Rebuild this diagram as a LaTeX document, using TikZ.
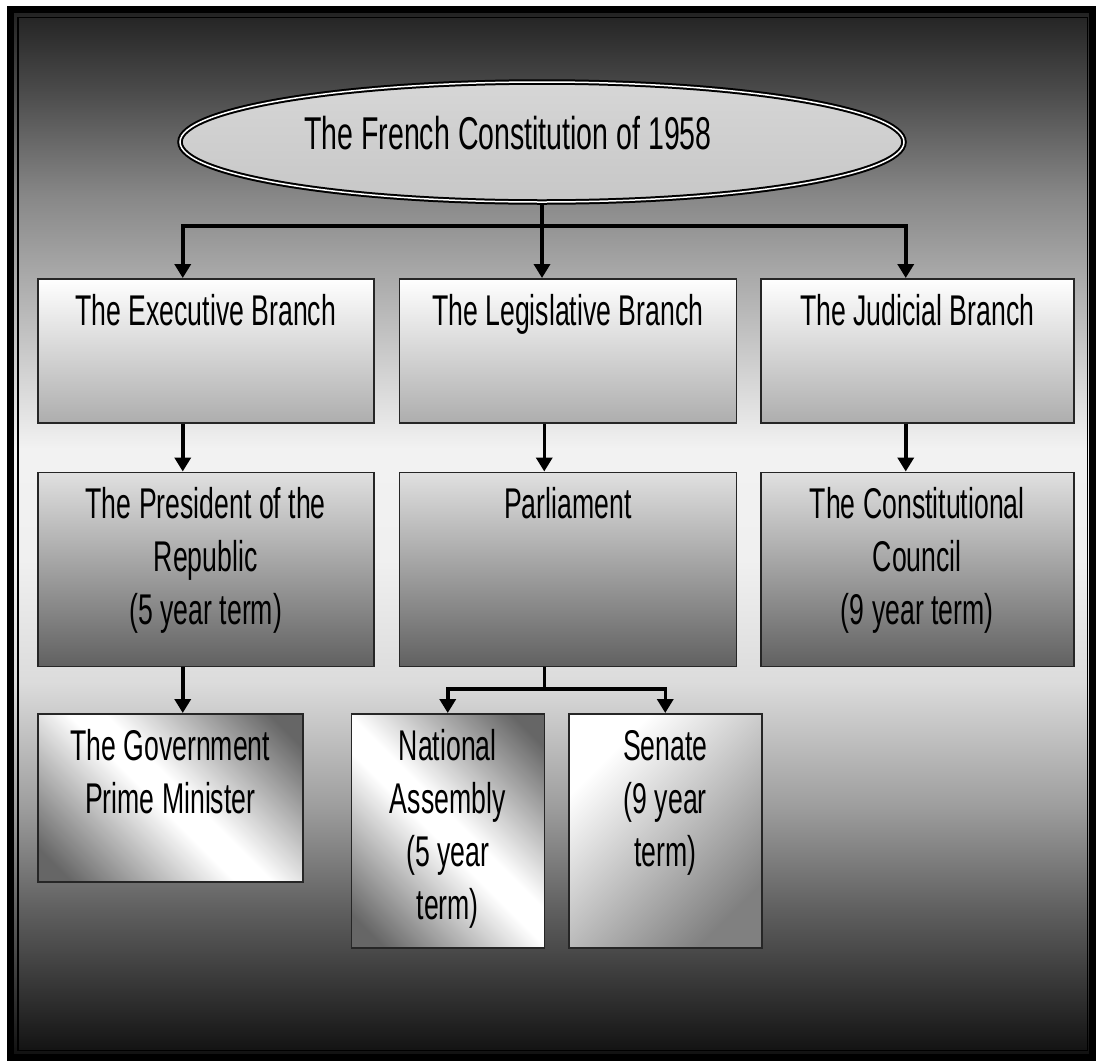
\documentclass[tikz,border=0pt]{standalone}
\usepackage{fontspec}
\setmainfont{Liberation Sans}[FakeStretch=0.62]
\usepackage{tikz}
\usetikzlibrary{shapes,shapes.geometric,arrows.meta,calc,positioning}
\usepackage{xcolor}

\pgfdeclareverticalshading{framefade}{100bp}{color(0bp)=(black!94); color(25bp)=(black!94); color(32.18bp)=(black!62); color(37.03bp)=(black!38); color(42.85bp)=(black!14); color(48.67bp)=(black!6); color(54bp)=(black!5); color(61.28bp)=(black!30); color(66.13bp)=(black!47); color(70.97bp)=(black!70); color(75bp)=(black!87); color(100bp)=(black!87)}
\pgfdeclarehorizontalshading{glare}{100bp}{color(0bp)=(black!60); color(20bp)=(black!60); color(47bp)=(white); color(53bp)=(white); color(80bp)=(black!60); color(100bp)=(black!60)}
\pgfdeclarehorizontalshading{sheen}{100bp}{color(0bp)=(white); color(28bp)=(white); color(75bp)=(black!50); color(100bp)=(black!50)}

\begin{document}
\begin{tikzpicture}[
	  x=1pt,y=-1pt,
	  every node/.style={align=flush center,text=black,font=\fontsize{43pt}{53pt}\selectfont},
	  box/.style={draw=black!85,line width=1.5pt,rectangle,inner xsep=4pt,inner ysep=0pt,text height=46.5pt},
	  branch/.style={box,top color=white,bottom color=black!32,text depth=97.5pt},
	  office/.style={box,top color=black!12,bottom color=black!62,text depth=147.5pt},
	  chamber/.style={box,shade,shading=glare,shading angle=45},
	  senatebox/.style={box,shade,shading=sheen,shading angle=-45},
	  founding/.style={ellipse,draw=black,double=white,double distance=1.5pt,line width=2pt,
	    top color=black!16,middle color=black!6,bottom color=black!22,minimum width=724pt,minimum height=120pt,inner sep=0pt},
	  link/.style={line width=3.5pt,draw=black},
	  to/.style={link,-{Triangle[width=16pt,length=14pt]}}]

	  % frame and background
	  \fill[white] (0,0) rectangle (1096,1060);
	  \shade[shading=framefade] (10.5,9.5) rectangle (1092.5,1057.5);
	  \draw[line width=7pt] (10.5,9.5) rectangle (1092.5,1057.5);
	  \draw[line width=1.5pt] (18,17.5) rectangle (1087.5,1050.5);

	  % Position the nodes
	  \node[founding] (title) at (542,142) {};
	  \node[anchor=base,font=\fontsize{46pt}{53pt}\selectfont] (titletext) at ($(title.center)+(-34,7)$) {The French Constitution of 1958};

	  \node[branch,text width=328pt,anchor=north west] (exec) at (37,278) {The Executive Branch};
	  \node[branch,text width=329pt,right=24pt of exec] (legis) {The Legislative Branch};
	  \node[branch,text width=305pt,right=23pt of legis] (judic) {The Judicial Branch};

	  \node[office,text width=328pt,below=48pt of exec] (pres) {The President of the\\Republic\\(5 year term)};
	  \node[office,text width=329pt,below=48pt of legis] (parl) {Parliament};
	  \node[office,text width=305pt,below=48pt of judic] (council) {The Constitutional\\Council\\(9 year term)};

	  \node[chamber,text width=257pt,text depth=121.5pt,below right=46pt and 0pt of pres.south west] (gov) {The Government\\Prime Minister};
	  \node[chamber,text width=185pt,text depth=187.5pt,right=47pt of gov.north east,anchor=north west] (natl) {National\\Assembly\\(5 year\\term)};
	  \node[senatebox,text width=185pt,text depth=187.5pt,right=23pt of natl] (senate) {Senate\\(9 year\\term)};

	  % connectors
	  \coordinate (hub) at ($(title.south)+(0,23)$);
	  \coordinate (split) at ($([xshift=-23.5pt]parl.south)+(0,22)$);

	  \draw[link] (title.south) -- (hub);
	  \draw[to] (hub) -| ([xshift=-23pt]exec.north);
	  \draw[to] (hub) -- (legis.north -| hub);
	  \draw[to] (hub) -| ([xshift=-11.5pt]judic.north);
	  \draw[to] ([xshift=-23pt]exec.south) -- ([xshift=-23pt]pres.north);
	  \draw[to] ([xshift=-23.5pt]legis.south) -- ([xshift=-23.5pt]parl.north);
	  \draw[to] ([xshift=-11.5pt]judic.south) -- ([xshift=-11.5pt]council.north);
	  \draw[to] ([xshift=-23pt]pres.south) -- ([xshift=12.5pt]gov.north);
	  \draw[link] ([xshift=-23.5pt]parl.south) -- (split);
	  \draw[to] (split) -| (natl.north);
	  \draw[to] (split) -| (senate.north);
\end{tikzpicture}
\end{document}
